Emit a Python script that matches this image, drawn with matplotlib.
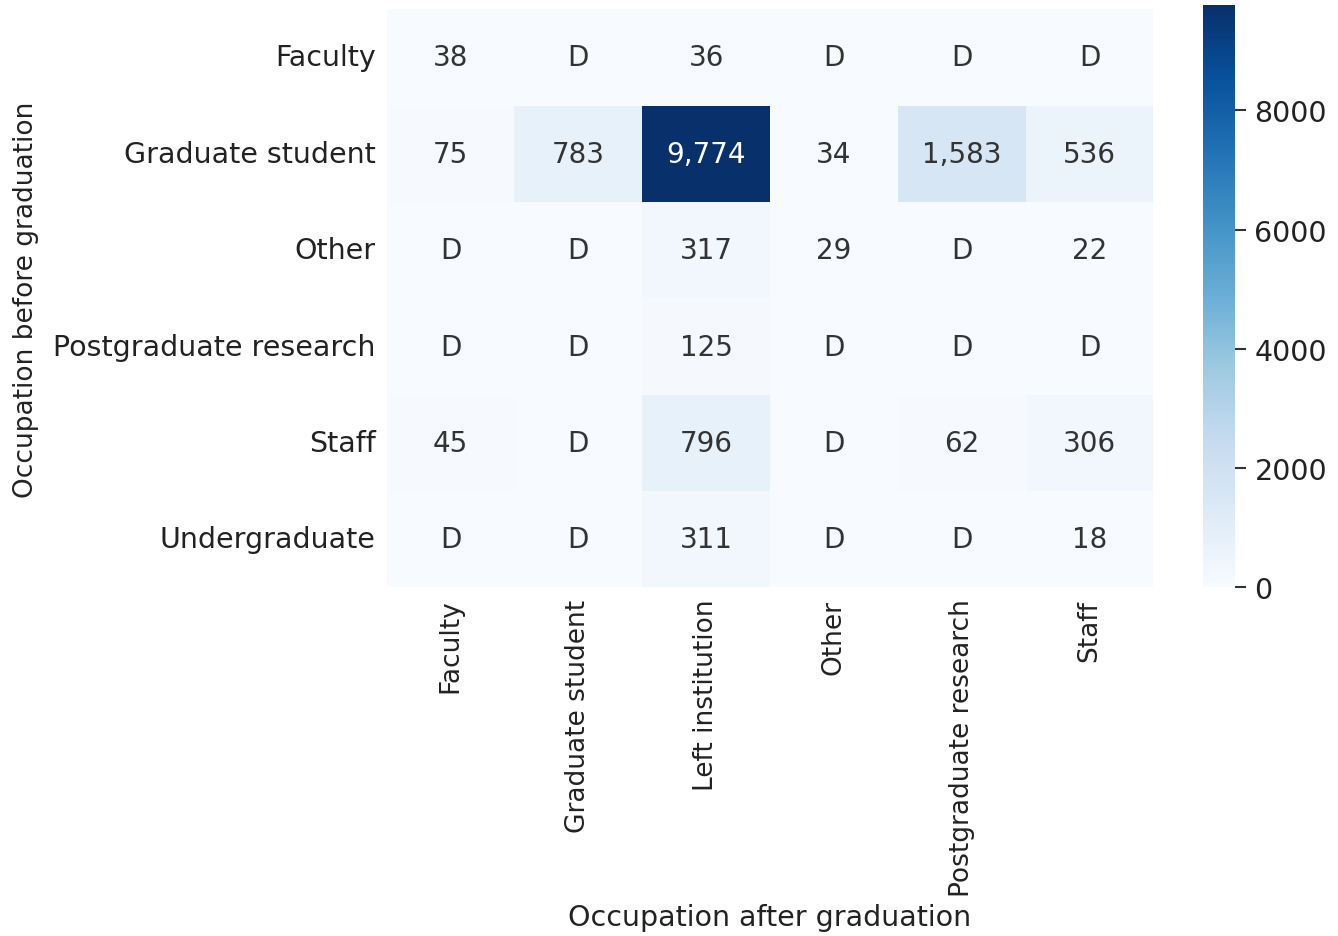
import numpy as np
import matplotlib
matplotlib.use("Agg")
import matplotlib.pyplot as plt
import seaborn as sns

before = ["Faculty", "Graduate student", "Other", "Postgraduate research", "Staff", "Undergraduate"]
after = ["Faculty", "Graduate student", "Left institution", "Other", "Postgraduate research", "Staff"]

# None = suppressed ("D")
faculty_row = [38, None, 36, None, None, None]
grad_row = [75, 783, 9774, 34, 1583, 536]
other_row = [None, None, 317, 29, None, 22]
postgrad_row = [None, None, 125, None, None, None]
staff_row = [45, None, 796, None, 62, 306]
undergrad_row = [None, None, 311, None, None, 18]

rows = [faculty_row, grad_row, other_row, postgrad_row, staff_row, undergrad_row]
values = np.array([[0 if v is None else v for v in r] for r in rows], dtype=float)
labels = np.array([["D" if v is None else f"{v:,}" for v in r] for r in rows])

H = 20.5   # horizontal text size
V = 19     # rotated text size

fig = plt.figure(figsize=(13.38, 9.37), dpi=100)
ax = fig.add_axes([0.289, 0.372, 0.573, 0.617])
cax = fig.add_axes([0.899, 0.372, 0.024, 0.622])

sns.heatmap(values, annot=labels, fmt="", cmap="Blues", vmin=0, vmax=9774,
            ax=ax, cbar_ax=cax, xticklabels=after, yticklabels=before,
            annot_kws={"fontsize": 20})

for t in ax.texts:
    if t.get_text() == "9,774":
        t.set_color("white")
    else:
        t.set_color("#333333")

ax.tick_params(axis="both", length=0)
ax.tick_params(axis="y", labelsize=H, pad=8, labelcolor="#222222")
ax.tick_params(axis="x", labelsize=V, pad=8, labelcolor="#222222")
plt.setp(ax.get_xticklabels(), rotation=90)
plt.setp(ax.get_yticklabels(), rotation=0)
ax.set_xlabel("Occupation after graduation", fontsize=H, labelpad=5, color="#222222")
ax.set_ylabel("Occupation before graduation", fontsize=V, labelpad=10, color="#222222")

cax.tick_params(labelsize=H, length=8, width=1.5, pad=6, labelcolor="#222222", color="#333333")
cax.set_yticks([0, 2000, 4000, 6000, 8000])
cax.spines[:].set_visible(False)

fig.savefig("out.png", dpi=100)
